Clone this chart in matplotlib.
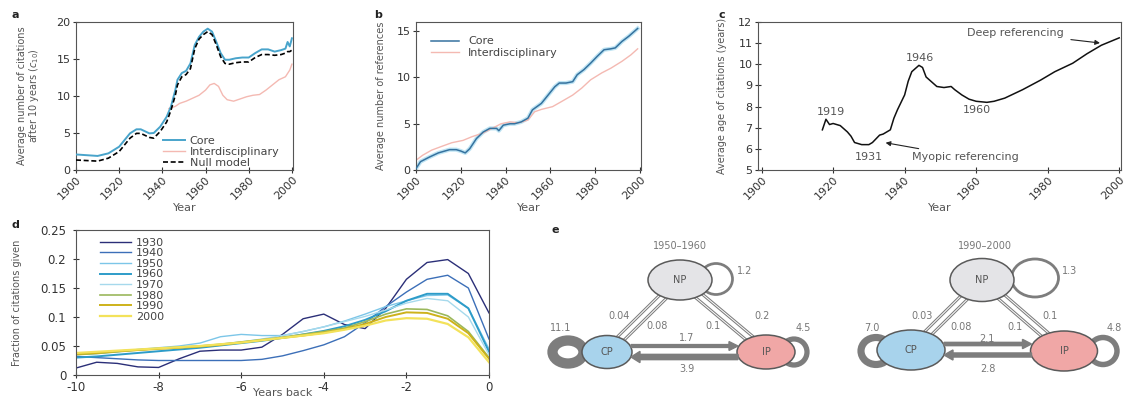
import numpy as np
import matplotlib.pyplot as plt
from matplotlib.patches import Ellipse, FancyArrow
from matplotlib.ticker import FormatStrFormatter

W, H = 1126, 398

# ---- panel a: average citations after 10 years
a_years = [1900, 1910, 1915, 1920, 1925, 1928, 1930, 1934, 1936, 1939, 1942, 1944, 1946,
           1947, 1949, 1951, 1953, 1955, 1957, 1959, 1961, 1963, 1965, 1967, 1969, 1971,
           1974, 1977, 1980, 1983, 1986, 1989, 1992, 1995, 1997, 1998, 1999, 2000]
a_core = [2.1, 1.9, 2.25, 3.15, 4.95, 5.5, 5.5, 4.95, 5.0, 5.85, 7.2, 8.6, 10.8,
          12.2, 13.1, 13.4, 14.4, 16.9, 18.0, 18.7, 19.1, 18.7, 17.3, 15.8, 14.9, 14.9,
          15.1, 15.2, 15.2, 15.8, 16.3, 16.3, 16.0, 16.2, 16.4, 17.3, 16.7, 17.8]
a_null = [1.35, 1.2, 1.6, 2.5, 4.3, 4.95, 4.95, 4.4, 4.3, 5.2, 6.5, 8.1, 10.1,
          11.5, 12.6, 12.9, 13.7, 16.4, 17.7, 18.3, 18.7, 18.3, 16.9, 15.3, 14.4, 14.3,
          14.5, 14.6, 14.6, 15.2, 15.6, 15.6, 15.5, 15.6, 15.8, 16.0, 16.0, 16.2]
a_inter_years = [1943, 1946, 1948, 1951, 1954, 1957, 1960, 1962, 1964, 1966, 1968, 1970,
                 1973, 1976, 1979, 1982, 1985, 1988, 1991, 1994, 1997, 1999, 2000]
a_inter = [8.3, 8.6, 9.0, 9.3, 9.7, 10.1, 10.8, 11.5, 11.7, 11.3, 10.1, 9.5,
           9.3, 9.6, 9.9, 10.1, 10.2, 10.8, 11.5, 12.2, 12.6, 13.5, 14.3]

# ---- panel b: average number of references
b_years = [1900, 1902, 1906, 1910, 1915, 1918, 1920, 1922, 1924, 1927, 1930, 1933, 1936,
           1937, 1939, 1942, 1944, 1947, 1950, 1952, 1954, 1956, 1959, 1962, 1964, 1967,
           1970, 1972, 1975, 1978, 1981, 1984, 1987, 1989, 1992, 1995, 1999]
b_core = [0.15, 0.9, 1.4, 1.85, 2.2, 2.2, 2.05, 1.85, 2.3, 3.4, 4.1, 4.5, 4.5,
          4.25, 4.85, 5.0, 5.0, 5.2, 5.6, 6.5, 6.85, 7.2, 8.1, 9.0, 9.4, 9.4,
          9.55, 10.3, 10.85, 11.55, 12.3, 13.0, 13.1, 13.2, 13.9, 14.45, 15.3]
b_inter_years = [1900, 1903, 1907, 1912, 1916, 1921, 1925, 1930, 1934, 1938, 1942, 1946,
                 1950, 1953, 1956, 1961, 1965, 1970, 1974, 1978, 1983, 1987, 1992, 1996, 1999]
b_inter = [1.05, 1.6, 2.15, 2.6, 2.95, 3.2, 3.6, 4.0, 4.5, 5.0, 5.2, 5.1,
           5.4, 6.3, 6.55, 6.85, 7.4, 8.1, 8.85, 9.75, 10.5, 11.0, 11.75, 12.45, 13.1]

# ---- panel c: average age of citations
c_years = [1917, 1918, 1919, 1920, 1922, 1923, 1924, 1925, 1926, 1928, 1930, 1931, 1933,
           1934, 1936, 1937, 1938, 1940, 1941, 1942, 1944, 1945, 1946, 1948, 1949, 1951,
           1953, 1954, 1956, 1958, 1960, 1963, 1965, 1968, 1973, 1978, 1982, 1987, 1991,
           1995, 2000]
c_age = [6.9, 7.4, 7.15, 7.2, 7.1, 6.95, 6.8, 6.6, 6.3, 6.2, 6.2, 6.3, 6.65,
         6.7, 6.9, 7.45, 7.85, 8.55, 9.2, 9.65, 9.95, 9.85, 9.4, 9.1, 8.95, 8.9,
         8.95, 8.8, 8.55, 8.35, 8.25, 8.2, 8.25, 8.4, 8.8, 9.25, 9.65, 10.05, 10.5,
         10.9, 11.25]

# ---- panel d: fraction of citations given vs years back
d_x = np.linspace(-10, 0, 21)
d_labels = ['1930', '1940', '1950', '1960', '1970', '1980', '1990', '2000']
d_1930 = [0.012, 0.022, 0.020, 0.014, 0.013, 0.028, 0.041, 0.043, 0.043, 0.048, 0.070,
          0.097, 0.105, 0.087, 0.080, 0.115, 0.165, 0.194, 0.199, 0.175, 0.107]
d_1940 = [0.032, 0.030, 0.028, 0.026, 0.025, 0.025, 0.025, 0.025, 0.025, 0.027, 0.033,
          0.042, 0.052, 0.066, 0.090, 0.118, 0.143, 0.165, 0.172, 0.150, 0.062]
d_1950 = [0.035, 0.037, 0.040, 0.044, 0.047, 0.050, 0.055, 0.066, 0.070, 0.068, 0.068,
          0.075, 0.083, 0.093, 0.105, 0.118, 0.128, 0.137, 0.138, 0.115, 0.045]
d_1960 = [0.030, 0.032, 0.035, 0.038, 0.041, 0.044, 0.047, 0.051, 0.055, 0.059, 0.064,
          0.070, 0.076, 0.084, 0.095, 0.110, 0.128, 0.140, 0.140, 0.115, 0.040]
d_1970 = [0.036, 0.038, 0.041, 0.044, 0.046, 0.048, 0.050, 0.053, 0.057, 0.062, 0.068,
          0.075, 0.083, 0.092, 0.101, 0.112, 0.124, 0.132, 0.128, 0.100, 0.035]
d_1980 = [0.035, 0.037, 0.040, 0.043, 0.046, 0.048, 0.050, 0.053, 0.057, 0.061, 0.065,
          0.070, 0.075, 0.081, 0.092, 0.105, 0.114, 0.113, 0.102, 0.075, 0.030]
d_1990 = [0.036, 0.038, 0.041, 0.043, 0.045, 0.047, 0.049, 0.052, 0.056, 0.060, 0.064,
          0.068, 0.073, 0.079, 0.088, 0.100, 0.108, 0.107, 0.097, 0.072, 0.028]
d_2000 = [0.038, 0.040, 0.042, 0.044, 0.046, 0.048, 0.050, 0.053, 0.056, 0.060, 0.064,
          0.068, 0.072, 0.078, 0.085, 0.094, 0.098, 0.097, 0.088, 0.065, 0.022]
d_series = [d_1930, d_1940, d_1950, d_1960, d_1970, d_1980, d_1990, d_2000]
d_colors = ['#2b2f78', '#3c6fb8', '#7cc6e8', '#2d9cc9', '#a6d9ec', '#9bb85c', '#cdb21a', '#f3e25a']
d_widths = [1.0, 1.0, 1.0, 1.4, 1.0, 1.2, 1.4, 1.6]

# ---- panel e: citation flows between NP, CP, IP
e_periods = ['1950\u20131960', '1990\u20132000']
e_loop_np = [1.2, 1.3]
e_loop_cp = [11.1, 7.0]
e_loop_ip = [4.5, 4.8]
e_np_cp = [(0.04, 0.08), (0.03, 0.08)]
e_np_ip = [(0.1, 0.2), (0.1, 0.1)]
e_cp_to_ip = [1.7, 2.1]
e_ip_to_cp = [3.9, 2.8]

year_ticks = [1900, 1920, 1940, 1960, 1980, 2000]

TXT = '#333333'
plt.rcParams['axes.edgecolor'] = '#555555'
plt.rcParams['axes.linewidth'] = 0.8

fig = plt.figure(figsize=(W / 100, H / 100), dpi=100)


def px_axes(l, t, r, b):
    return fig.add_axes([l / W, 1 - b / H, (r - l) / W, (b - t) / H])


def style(ax, ylab, ylab_x, xlab, xlab_y, years=True):
    ax.tick_params(direction='inout', length=4, width=0.8, labelsize=8,
                   colors=TXT, pad=2)
    if years:
        # slanted year labels written as text at each tick
        ax.set_xticks(year_ticks)
        ax.tick_params(axis='x', labelbottom=False)
        for yr in year_ticks:
            ax.text(yr, -0.03, str(yr), transform=ax.get_xaxis_transform(),
                    rotation=45, ha='right', va='top', rotation_mode='anchor',
                    fontsize=8, color=TXT, clip_on=False)
    ax.set_ylabel(ylab, fontsize=7, color='#555555', linespacing=1.0)
    ax.yaxis.set_label_coords(ylab_x, 0.5)
    ax.set_xlabel(xlab, fontsize=8, color='#555555')
    ax.xaxis.set_label_coords(0.5, xlab_y)


def panel_letter(x, y, s):
    fig.text(x / W, 1 - y / H, s, fontsize=8, fontweight='bold', color='#222222',
             ha='center', va='center')


# a
ax = px_axes(76, 22, 293, 170)
ax.plot(a_inter_years, a_inter, color='#f4b9b2', lw=1.0, label='Interdisciplinary', zorder=2)
ax.plot(a_years, a_core, color='#49a4cb', lw=1.4, label='Core', zorder=3)
ax.plot(a_years, a_null, color='black', lw=1.2, ls=(0, (3, 1.6)), label='Null model', zorder=4)
ax.set_xlim(1900, 2000.5)
ax.set_ylim(0, 20)
ax.set_yticks([0, 5, 10, 15, 20])
style(ax, 'Average number of citations\nafter 10 years ($c_{10}$)', -0.16, 'Year', -0.22)
h, l = ax.get_legend_handles_labels()
ax.legend([h[1], h[0], h[2]], [l[1], l[0], l[2]], loc='lower left',
          bbox_to_anchor=(0.37, -0.03), frameon=False, fontsize=8,
          handlelength=2.0, labelspacing=0.1, borderaxespad=0.2, handletextpad=0.4,
          labelcolor='#444444')
panel_letter(15, 15, 'a')

# b
ax = px_axes(416, 22, 641, 170)
ax.plot(b_years, b_core, color='#bfe4f3', lw=3.0, zorder=2)
ax.plot(b_years, b_core, color='#35729f', lw=1.1, label='Core', zorder=3)
ax.plot(b_inter_years, b_inter, color='#f4b9b2', lw=1.0, label='Interdisciplinary', zorder=2)
ax.set_xlim(1900, 2000.5)
ax.set_ylim(0, 16)
ax.set_yticks([0, 5, 10, 15])
style(ax, 'Average number of references', -0.135, 'Year', -0.22)
ax.legend(loc='upper left', bbox_to_anchor=(0.02, 0.97), frameon=False, fontsize=8,
          handlelength=2.6, labelspacing=0.1, handletextpad=0.8, labelcolor='#444444')
panel_letter(378, 15, 'b')

# c
ax = px_axes(758, 22, 1121, 170)
ax.plot(c_years, c_age, color='#111111', lw=1.1)
ax.set_xlim(1899, 2000.5)
ax.set_ylim(5, 12)
ax.set_yticks(range(5, 13))
style(ax, 'Average age of citations (years)', -0.085, 'Year', -0.22)
ann = dict(fontsize=8, color='#555555')
ax.text(1919.3, 7.75, '1919', ha='center', va='center', **ann)
ax.text(1930, 5.62, '1931', ha='center', va='center', **ann)
ax.text(1944.3, 10.3, '1946', ha='center', va='center', **ann)
ax.text(1960.3, 7.84, '1960', ha='center', va='center', **ann)
ax.annotate('Myopic referencing', xy=(1934.3, 6.3), xytext=(1942, 5.62),
            ha='left', va='center', arrowprops=dict(arrowstyle='-|>', color='#222222',
                                                    lw=0.8, mutation_scale=7, shrinkA=2,
                                                    shrinkB=1), **ann)
ax.annotate('Deep referencing', xy=(1995, 11.0), xytext=(1957.5, 11.47),
            ha='left', va='center', arrowprops=dict(arrowstyle='-|>', color='#222222',
                                                    lw=0.8, mutation_scale=7, shrinkA=3,
                                                    shrinkB=1), **ann)
panel_letter(722, 15, 'c')

# d
ax = px_axes(76, 230, 489, 375)
for ys, lab, col, lw in zip(d_series, d_labels, d_colors, d_widths):
    ax.plot(d_x, ys, color=col, lw=lw, label=lab)
ax.set_xlim(-10, 0)
ax.set_ylim(0, 0.25)
ax.set_xticks([-10, -8, -6, -4, -2, 0])
ax.set_yticks([0, 0.05, 0.1, 0.15, 0.2, 0.25])
ax.yaxis.set_major_formatter(FormatStrFormatter('%g'))
ax.xaxis.set_major_formatter(FormatStrFormatter('%g'))
style(ax, 'Fraction of citations given', -0.13, 'Years back', -0.09, years=False)
ax.tick_params(labelsize=8.5)
ax.tick_params(axis='y', pad=5)
ax.legend(loc='upper left', bbox_to_anchor=(0.04, 1.0), frameon=False, fontsize=8,
          handlelength=2.8, labelspacing=0.05, handletextpad=0.4, borderaxespad=0.3,
          labelcolor='#444444')
panel_letter(15, 225, 'd')

# e: network diagrams drawn in figure pixel space
ov = fig.add_axes([0, 0, 1, 1])
ov.set_xlim(0, W)
ov.set_ylim(H, 0)
ov.axis('off')

layouts = [
    dict(NP=(680, 280, 64, 40), CP=(607, 352, 50, 33), IP=(766, 352, 58, 34),
         lNP=(716, 279, 33, 31), lCP=(568, 352, 31, 23), lIP=(794, 352, 26, 26),
         title=(680, 246), tNP=(745, 271), tCP=(561, 328), tIP=(803, 328),
         tNC=[(619, 316), (657, 326)], tNI=[(713, 326), (762, 316)],
         tCI=(687, 338), tIC=(687, 369)),
    dict(NP=(982, 280, 64, 43), CP=(911, 350, 68, 40), IP=(1064, 351, 67, 40),
         lNP=(1035, 278, 47, 38), lCP=(876, 351, 30, 27), lIP=(1103, 351, 28, 27),
         title=(985, 246), tNP=(1070, 271), tCP=(872, 328), tIP=(1114, 328),
         tNC=[(922, 316), (961, 327)], tNI=[(1015, 327), (1050, 316)],
         tCI=(987, 339), tIC=(988, 369)),
]
node_fc = {'NP': '#e4e4e7', 'CP': '#a8d3ec', 'IP': '#f0a7a6'}
GRAY = '#7d7d7d'
etxt = dict(fontsize=7, color='#777777', ha='center', va='center', zorder=6)


def loop_lw(w):
    return 1.3 + 0.55 * w


def double_line(p, q, off=3.5):
    d = np.array(q[:2], float) - np.array(p[:2], float)
    n = np.array([-d[1], d[0]]) / np.hypot(*d)
    for s in (-1, 1):
        a = np.array(p[:2]) + s * off * n
        b = np.array(q[:2]) + s * off * n
        ov.plot([a[0], b[0]], [a[1], b[1]], color=GRAY, lw=2.2, zorder=2,
                solid_capstyle='butt')
        ov.plot([a[0], b[0]], [a[1], b[1]], color='white', lw=0.7, zorder=2.1,
                solid_capstyle='butt')


for i, L in enumerate(layouts):
    # self loops
    for key, w in (('lNP', e_loop_np[i]), ('lCP', e_loop_cp[i]), ('lIP', e_loop_ip[i])):
        cx, cy, ew, eh = L[key]
        ov.add_patch(Ellipse((cx, cy), ew, eh, fill=False, ec=GRAY, lw=loop_lw(w), zorder=1))
    # NP edges
    double_line(L['NP'], L['CP'])
    double_line(L['NP'], L['IP'])
    # nodes
    for name in ('NP', 'CP', 'IP'):
        cx, cy, ew, eh = L[name]
        ov.add_patch(Ellipse((cx, cy), ew, eh, fc=node_fc[name], ec='#5a5a5a', lw=1.1, zorder=3))
        ov.text(cx, cy, name, fontsize=7, color='#555555', ha='center', va='center', zorder=6)
    # CP <-> IP arrows
    cx, cy, cw, _ = L['CP']
    ix, iy, iw, _ = L['IP']
    x0 = cx + cw / 2 - 1
    x1 = ix - iw / 2 + 1
    w1 = 1.0 + 1.1 * e_cp_to_ip[i]
    w2 = 1.0 + 1.1 * e_ip_to_cp[i]
    ov.add_patch(FancyArrow(x0, cy - 6, x1 - x0, 0, width=w1, head_width=w1 + 6,
                            head_length=9, length_includes_head=True, color=GRAY, zorder=4))
    ov.add_patch(FancyArrow(x1, cy + 5, x0 - x1, 0, width=w2, head_width=w2 + 6,
                            head_length=9, length_includes_head=True, color=GRAY, zorder=4))
    # labels
    ov.text(*L['title'], e_periods[i], **etxt)
    ov.text(*L['tNP'], f'{e_loop_np[i]:.1f}', **etxt)
    ov.text(*L['tCP'], f'{e_loop_cp[i]:.1f}', **etxt)
    ov.text(*L['tIP'], f'{e_loop_ip[i]:.1f}', **etxt)
    for pos, w in zip(L['tNC'], e_np_cp[i]):
        ov.text(*pos, f'{w:g}', **etxt)
    for pos, w in zip(L['tNI'], e_np_ip[i]):
        ov.text(*pos, f'{w:g}', **etxt)
    ov.text(*L['tCI'], f'{e_cp_to_ip[i]:.1f}', **etxt)
    ov.text(*L['tIC'], f'{e_ip_to_cp[i]:.1f}', **etxt)

panel_letter(555, 230, 'e')

fig.savefig('out.png', dpi=100)
